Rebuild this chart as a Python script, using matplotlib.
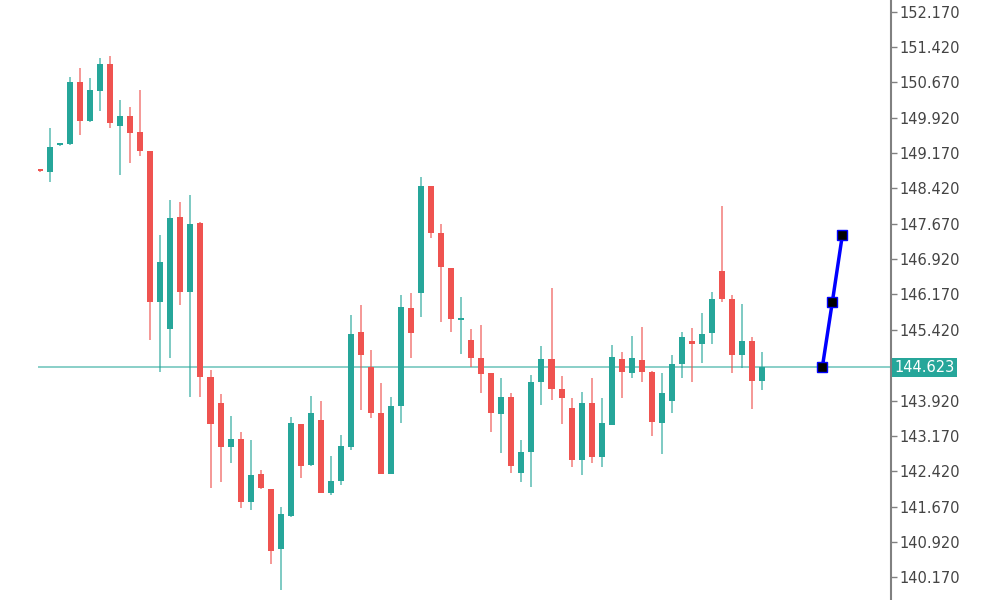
import matplotlib
matplotlib.use("Agg")
import matplotlib.pyplot as plt
import numpy as np

# candle data (oldest first)
opens = [148.83, 148.77, 149.34, 149.36, 150.68, 149.85, 150.49, 151.06, 149.74, 149.96,
         149.62, 149.21, 146.01, 145.44, 147.81, 146.22, 147.69, 144.42, 143.87, 142.93,
         143.10, 141.77, 142.36, 142.04, 140.77, 141.47, 143.42, 142.55, 143.51, 141.96,
         142.21, 142.93, 145.37, 144.63, 143.655, 142.36, 143.80, 145.88, 146.20, 148.47,
         147.47, 146.73, 145.63, 145.20, 144.82, 144.50, 143.63, 143.99, 142.38, 142.83,
         144.31, 144.80, 144.16, 143.76, 142.66, 143.87, 142.72, 143.40, 144.80, 144.50,
         144.78, 144.53, 143.44, 143.91, 144.70, 145.18, 145.12, 145.35, 146.67, 146.07,
         144.89, 145.18, 144.33]
highs = [148.84, 149.70, 149.39, 150.78, 150.98, 150.76, 151.19, 151.23, 150.30, 150.15,
         150.51, 149.22, 147.43, 148.17, 148.13, 148.28, 147.70, 144.57, 144.06, 143.59,
         143.25, 143.08, 142.45, 142.05, 141.66, 143.57, 143.43, 144.02, 143.91, 142.74,
         143.19, 145.73, 145.95, 144.99, 144.29, 143.99, 146.16, 146.20, 148.66, 148.48,
         147.665, 146.74, 146.12, 145.44, 145.52, 144.51, 144.40, 144.08, 143.08, 144.46,
         145.08, 146.31, 144.44, 143.97, 144.10, 144.40, 143.97, 145.10, 144.95, 145.29,
         145.48, 144.54, 144.50, 144.89, 145.37, 145.46, 145.78, 146.22, 148.05, 146.16,
         145.97, 145.27, 144.95]
lows = [148.77, 148.56, 149.33, 149.34, 149.55, 149.83, 150.06, 149.70, 148.70, 148.96,
        149.11, 145.20, 144.53, 144.82, 145.95, 143.99, 143.99, 142.06, 142.19, 142.59,
        141.64, 141.60, 142.05, 140.45, 139.90, 141.45, 142.28, 142.54, 141.95, 141.92,
        142.13, 142.87, 143.72, 143.55, 142.35, 142.35, 143.44, 144.82, 145.69, 147.37,
        145.59, 145.37, 144.91, 144.63, 144.08, 143.25, 142.81, 142.38, 142.19, 142.09,
        143.83, 143.93, 143.42, 142.51, 142.34, 142.59, 142.51, 143.39, 143.97, 144.40,
        144.31, 143.17, 142.79, 143.655, 144.40, 144.31, 144.72, 145.12, 146.01, 144.50,
        144.61, 143.74, 144.14]
closes = [148.79, 149.30, 149.37, 150.68, 149.85, 150.51, 151.06, 149.81, 149.96, 149.60,
          149.21, 146.01, 146.86, 147.79, 146.22, 147.665, 144.42, 143.42, 142.93, 143.10,
          141.77, 142.34, 142.06, 140.73, 141.51, 143.443, 142.53, 143.655, 141.96, 142.21,
          142.95, 145.33, 144.89, 143.655, 142.36, 143.80, 145.90, 145.35, 148.47, 147.47,
          146.75, 145.65, 145.67, 144.82, 144.48, 143.655, 143.99, 142.53, 142.83, 144.31,
          144.80, 144.16, 143.97, 142.66, 143.87, 142.72, 143.44, 144.84, 144.53, 144.82,
          144.53, 143.46, 144.08, 144.70, 145.27, 145.12, 145.33, 146.07, 146.07, 144.89,
          145.18, 144.33, 144.63]

current_price = 144.623
proj_x = [78, 79, 80]
proj_y = [144.623, 146.01, 147.43]

# price scale ticks; the one hidden under the price box is left out
tick_vals = [140.17 + 0.75 * k for k in range(17) if k != 6]

up_col = "#26a69a"
down_col = "#ef5350"

fig = plt.figure(figsize=(10, 6), dpi=100)
ax = fig.add_axes([0.038, 0.0, 0.853, 1.0])

x = np.arange(len(opens))
o = np.array(opens)
c = np.array(closes)
up = c >= o
cols = np.where(up, up_col, down_col)

ax.vlines(x, lows, highs, colors=cols, linewidth=1.4, alpha=0.6, zorder=2)
body_h = np.maximum(np.abs(c - o), 0.035)
body_b = np.minimum(o, c)
ax.bar(x, body_h, bottom=body_b, width=0.6, color=cols, linewidth=0, zorder=3)

ax.axhline(current_price, color="#80cbc4", linewidth=1.3, zorder=1)

ax.plot(proj_x, proj_y, color="#0000ff", linewidth=2.5, marker="s", markersize=7,
        markerfacecolor="black", markeredgecolor="#0000ff", markeredgewidth=1, zorder=5)

ax.set_xlim(-0.2, 84.85)
ax.set_ylim(139.687, 152.418)

for s in ["top", "left", "bottom"]:
    ax.spines[s].set_visible(False)
ax.spines["right"].set_color("#808080")
ax.spines["right"].set_linewidth(1.5)
ax.set_xticks([])
ax.yaxis.tick_right()
ax.set_yticks(tick_vals)
ax.set_yticklabels([f"{v:.3f}" for v in tick_vals])
ax.tick_params(axis="y", direction="out", length=4, width=1, color="#808080",
               labelcolor="#444444", labelsize=10.5, pad=2)

ax.text(1.004, current_price, f"{current_price:.3f}", transform=ax.get_yaxis_transform(),
        va="center", ha="left", color="white", fontsize=10.5, zorder=6,
        bbox=dict(boxstyle="square,pad=0.15", facecolor=up_col, edgecolor="none"))

fig.savefig("out.png", dpi=100, facecolor="white")
